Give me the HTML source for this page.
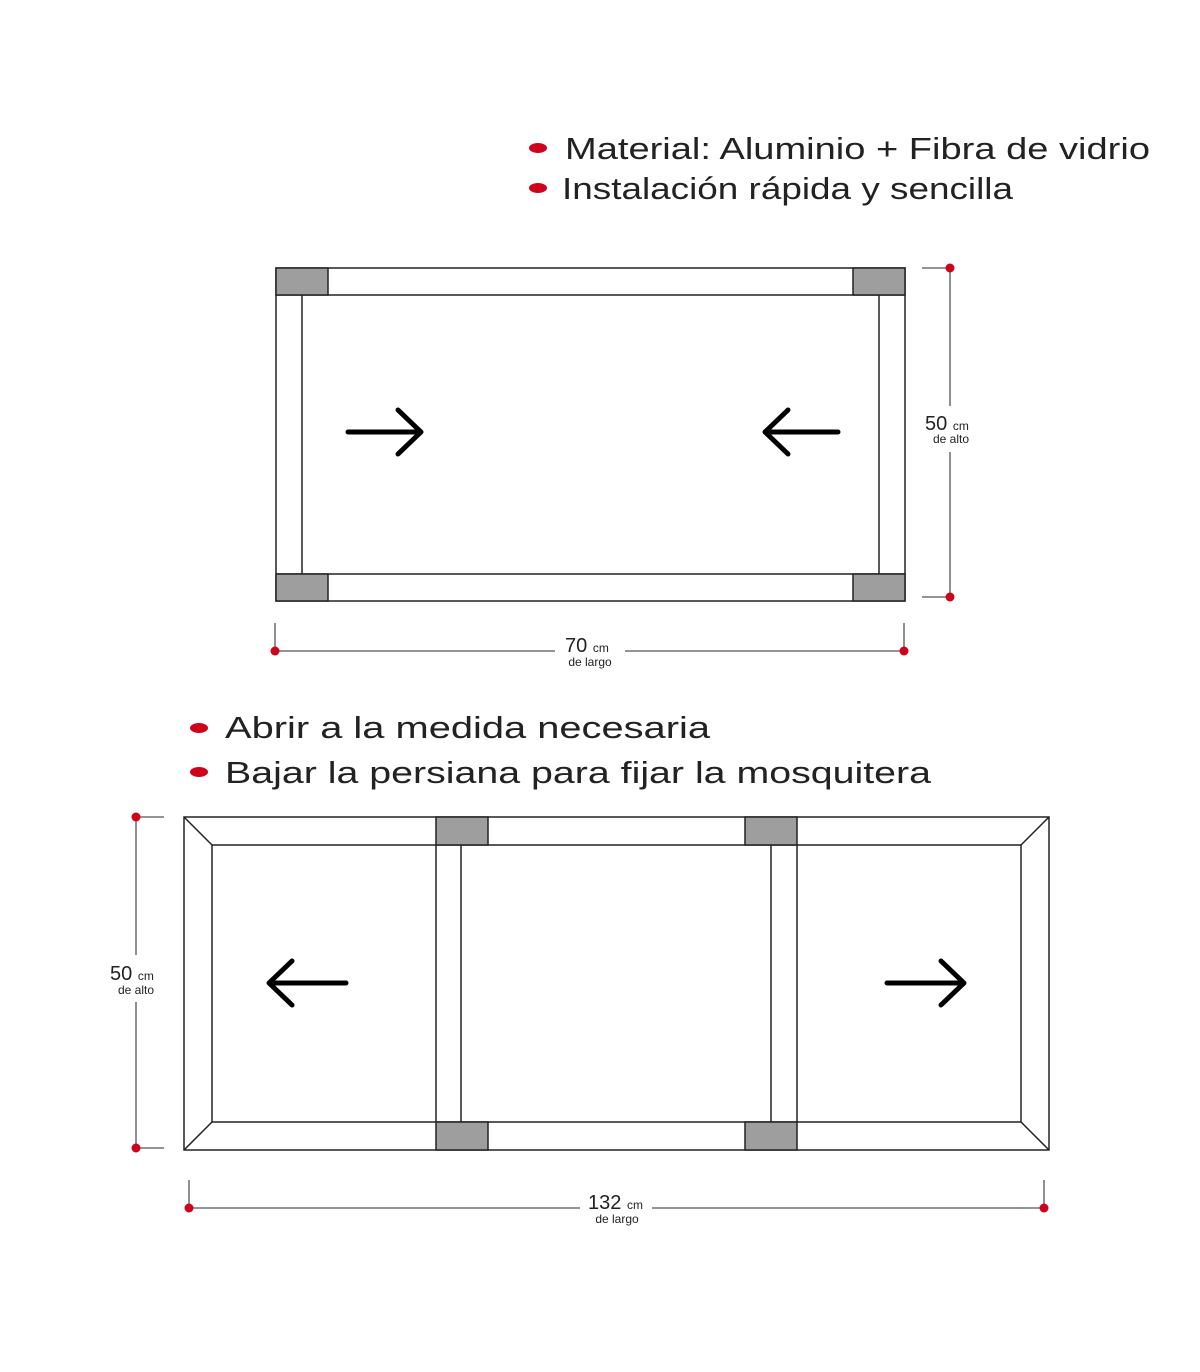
<!DOCTYPE html>
<html><head><meta charset="utf-8"><style>html,body{margin:0;padding:0;background:#fff}svg{display:block}</style></head>
<body>
<svg width="1200" height="1372" viewBox="0 0 1200 1372" xmlns="http://www.w3.org/2000/svg" font-family="'Liberation Sans', 'DejaVu Sans', sans-serif">
<g fill="#d0021b">
<ellipse cx="538" cy="148" rx="9" ry="5"/>
<ellipse cx="538" cy="188" rx="9" ry="5"/>
<ellipse cx="199" cy="728" rx="9" ry="5"/>
<ellipse cx="199" cy="772" rx="9" ry="5"/>
</g>
<g fill="#222" font-size="31">
<text x="565" y="159" textLength="585" lengthAdjust="spacingAndGlyphs">Material: Aluminio + Fibra de vidrio</text>
<text x="562" y="199" textLength="451" lengthAdjust="spacingAndGlyphs">Instalación rápida y sencilla</text>
<text x="225" y="738" textLength="485" lengthAdjust="spacingAndGlyphs">Abrir a la medida necesaria</text>
<text x="225" y="783" textLength="706" lengthAdjust="spacingAndGlyphs">Bajar la persiana para fijar la mosquitera</text>
</g>

<!-- top frame -->
<g stroke="#222" stroke-width="1.5" fill="none">
<rect x="276" y="268" width="629" height="333"/>
<rect x="302" y="295" width="577" height="279"/>
<line x1="276" y1="295" x2="302" y2="295"/><line x1="879" y1="295" x2="905" y2="295"/>
<line x1="276" y1="574" x2="302" y2="574"/><line x1="879" y1="574" x2="905" y2="574"/>
</g>
<g fill="#9e9e9e" stroke="#222" stroke-width="1.5">
<rect x="276" y="268" width="52" height="27"/>
<rect x="853" y="268" width="52" height="27"/>
<rect x="276" y="574" width="52" height="27"/>
<rect x="853" y="574" width="52" height="27"/>
</g>
<g stroke="#000" stroke-width="5" fill="none" stroke-linecap="round" stroke-linejoin="round">
<path d="M348 432 H420 M398 410 L421 432 L398 454"/>
<path d="M838 432 H766 M788 410 L765 432 L788 454"/>
<path d="M346 983 H270 M292 961 L269 983 L292 1005"/>
<path d="M887 983 H963 M941 961 L964 983 L941 1005"/>
</g>

<!-- dims top -->
<g stroke="#555" stroke-width="1.3">
<line x1="922" y1="268" x2="950" y2="268"/><line x1="922" y1="597" x2="950" y2="597"/>
<line x1="950" y1="268" x2="950" y2="406"/><line x1="950" y1="452" x2="950" y2="597"/>
<line x1="275" y1="623" x2="275" y2="651"/><line x1="904" y1="623" x2="904" y2="651"/>
<line x1="275" y1="651" x2="555" y2="651"/><line x1="625" y1="651" x2="904" y2="651"/>
<line x1="136" y1="817" x2="164" y2="817"/><line x1="136" y1="1148" x2="164" y2="1148"/>
<line x1="136" y1="817" x2="136" y2="955"/><line x1="136" y1="1002" x2="136" y2="1148"/>
<line x1="189" y1="1180" x2="189" y2="1208"/><line x1="1044" y1="1180" x2="1044" y2="1208"/>
<line x1="189" y1="1208" x2="580" y2="1208"/><line x1="652" y1="1208" x2="1044" y2="1208"/>
</g>
<g fill="#d0021b">
<circle cx="950" cy="268" r="4.5"/><circle cx="950" cy="597" r="4.5"/>
<circle cx="275" cy="651" r="4.5"/><circle cx="904" cy="651" r="4.5"/>
<circle cx="136" cy="817" r="4.5"/><circle cx="136" cy="1148" r="4.5"/>
<circle cx="189" cy="1208" r="4.5"/><circle cx="1044" cy="1208" r="4.5"/>
</g>
<g fill="#222">
<text x="925" y="430" font-size="20">50 <tspan font-size="12">cm</tspan></text>
<text x="951" y="443" font-size="12" text-anchor="middle">de alto</text>
<text x="565" y="652" font-size="20">70 <tspan font-size="12">cm</tspan></text>
<text x="590" y="666" font-size="12" text-anchor="middle">de largo</text>
<text x="110" y="980" font-size="20">50 <tspan font-size="12">cm</tspan></text>
<text x="136" y="994" font-size="12" text-anchor="middle">de alto</text>
<text x="588" y="1209" font-size="20">132 <tspan font-size="12">cm</tspan></text>
<text x="617" y="1223" font-size="12" text-anchor="middle">de largo</text>
</g>

<!-- bottom frame -->
<g stroke="#222" stroke-width="1.5" fill="none">
<rect x="184" y="817" width="865" height="333"/>
<rect x="212" y="845" width="224" height="277"/>
<rect x="797" y="845" width="224" height="277"/>
<line x1="184" y1="817" x2="212" y2="845"/><line x1="184" y1="1150" x2="212" y2="1122"/>
<line x1="1049" y1="817" x2="1021" y2="845"/><line x1="1049" y1="1150" x2="1021" y2="1122"/>
<line x1="436" y1="845" x2="797" y2="845"/><line x1="436" y1="1122" x2="797" y2="1122"/>
<line x1="461" y1="845" x2="461" y2="1122"/><line x1="771" y1="845" x2="771" y2="1122"/>
</g>
<g fill="#9e9e9e" stroke="#222" stroke-width="1.5">
<rect x="436" y="817" width="52" height="28"/>
<rect x="745" y="817" width="52" height="28"/>
<rect x="436" y="1122" width="52" height="28"/>
<rect x="745" y="1122" width="52" height="28"/>
</g>
</svg>
</body></html>
